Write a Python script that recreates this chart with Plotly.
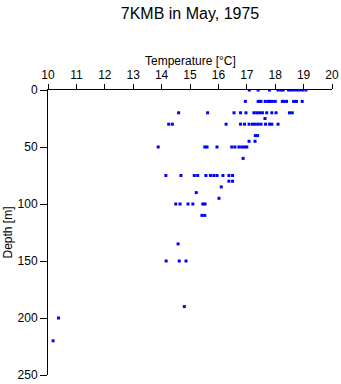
import plotly.graph_objects as go

# Temperature [°C] readings grouped by depth [m]
t_0 = [17.09, 17.4, 17.8, 18.1, 18.2, 18.28, 18.47, 18.57, 18.67, 18.77, 18.87, 18.97, 19.08]
t_10 = [16.95, 17.4, 17.45, 17.5, 17.65, 17.75, 17.8, 17.9, 18.0, 18.25, 18.3, 18.4, 18.65, 18.75, 18.95]
t_20 = [14.6, 15.62, 16.55, 16.78, 16.97, 17.25, 17.35, 17.45, 17.55, 17.7, 17.88, 18.03, 18.5, 18.6]
t_25 = [17.64]
t_30 = [14.25, 14.38, 16.27, 16.78, 16.92, 17.08, 17.2, 17.3, 17.4, 17.5, 17.66, 17.8, 17.88, 18.1]
t_40 = [17.3, 17.38]
t_45 = [17.08, 17.29]
t_50 = [13.88, 15.52, 15.6, 15.95, 16.47, 16.58, 16.72, 16.82, 16.92, 17.0]
t_60 = [16.87]
t_75 = [14.15, 14.68, 15.15, 15.27, 15.56, 15.72, 15.84, 15.95, 16.16, 16.37, 16.5]
t_80 = [16.37, 16.5]
t_85 = [16.1]
t_90 = [15.22]
t_95 = [16.02]
t_100 = [14.5, 14.65, 14.93, 15.1, 15.45, 15.53]
t_110 = [15.42, 15.52]
t_135 = [14.58]
t_150 = [14.16, 14.62, 14.86]
t_190 = [14.8]
t_200 = [10.37]
t_220 = [10.18]

depth_levels = [0, 10, 20, 25, 30, 40, 45, 50, 60, 75, 80, 85, 90, 95, 100, 110, 135, 150, 190, 200, 220]
temp_groups = [t_0, t_10, t_20, t_25, t_30, t_40, t_45, t_50, t_60, t_75, t_80, t_85, t_90,
               t_95, t_100, t_110, t_135, t_150, t_190, t_200, t_220]

x_ticks = [10, 11, 12, 13, 14, 15, 16, 17, 18, 19, 20]
y_ticks = [0, 50, 100, 150, 200, 250]

temps, depths = [], []
for d, grp in zip(depth_levels, temp_groups):
    for t in grp:
        temps.append(t)
        depths.append(d)

FONT = "Liberation Sans, Arial, sans-serif"

fig = go.Figure()
fig.add_trace(go.Scatter(
    x=temps, y=depths, mode="markers",
    marker=dict(symbol="square", size=3, color="#0000ff", line=dict(width=0)),
    showlegend=False, hoverinfo="x+y",
))

L, R, T, B = 48, 9, 90, 9
plot_h = 384 - T - B
plot_w = 341 - L - R

fig.update_layout(
    width=341, height=384,
    margin=dict(l=L, r=R, t=T, b=B, autoexpand=False),
    paper_bgcolor="white", plot_bgcolor="white",
    font=dict(family=FONT, size=12, color="black"),
    title=dict(text="7KMB in May, 1975", x=0.5, xref="paper", xanchor="center",
               y=1 - 13 / 384, yref="container", yanchor="middle", automargin=False,
               font=dict(family=FONT, size=16, color="black")),
    xaxis=dict(side="top", range=[10, 20], tickvals=x_ticks, ticktext=[str(v) for v in x_ticks],
               showgrid=False, zeroline=False, showline=True, linecolor="black", linewidth=1,
               ticks="outside", ticklen=5, tickcolor="black", tickwidth=1, automargin=False,
               tickfont=dict(family=FONT, size=12, color="black")),
    yaxis=dict(range=[250, 0], tickvals=y_ticks, ticktext=[str(v) for v in y_ticks],
               showgrid=False, zeroline=False, showline=True, linecolor="black", linewidth=1,
               ticks="outside", ticklen=7, tickcolor="black", tickwidth=1, automargin=False,
               tickfont=dict(family=FONT, size=12, color="black")),
    annotations=[
        dict(text="Temperature [°C]", xref="paper", yref="paper", x=0.5, y=1 + 29 / plot_h,
             xanchor="center", yanchor="middle", showarrow=False,
             font=dict(family=FONT, size=12, color="black")),
        dict(text="Depth [m]", xref="paper", yref="paper", x=(7 - L) / plot_w, y=0.5,
             xanchor="center", yanchor="middle", textangle=-90, showarrow=False,
             font=dict(family=FONT, size=12, color="black")),
    ],
)

fig.write_html("out.html")
